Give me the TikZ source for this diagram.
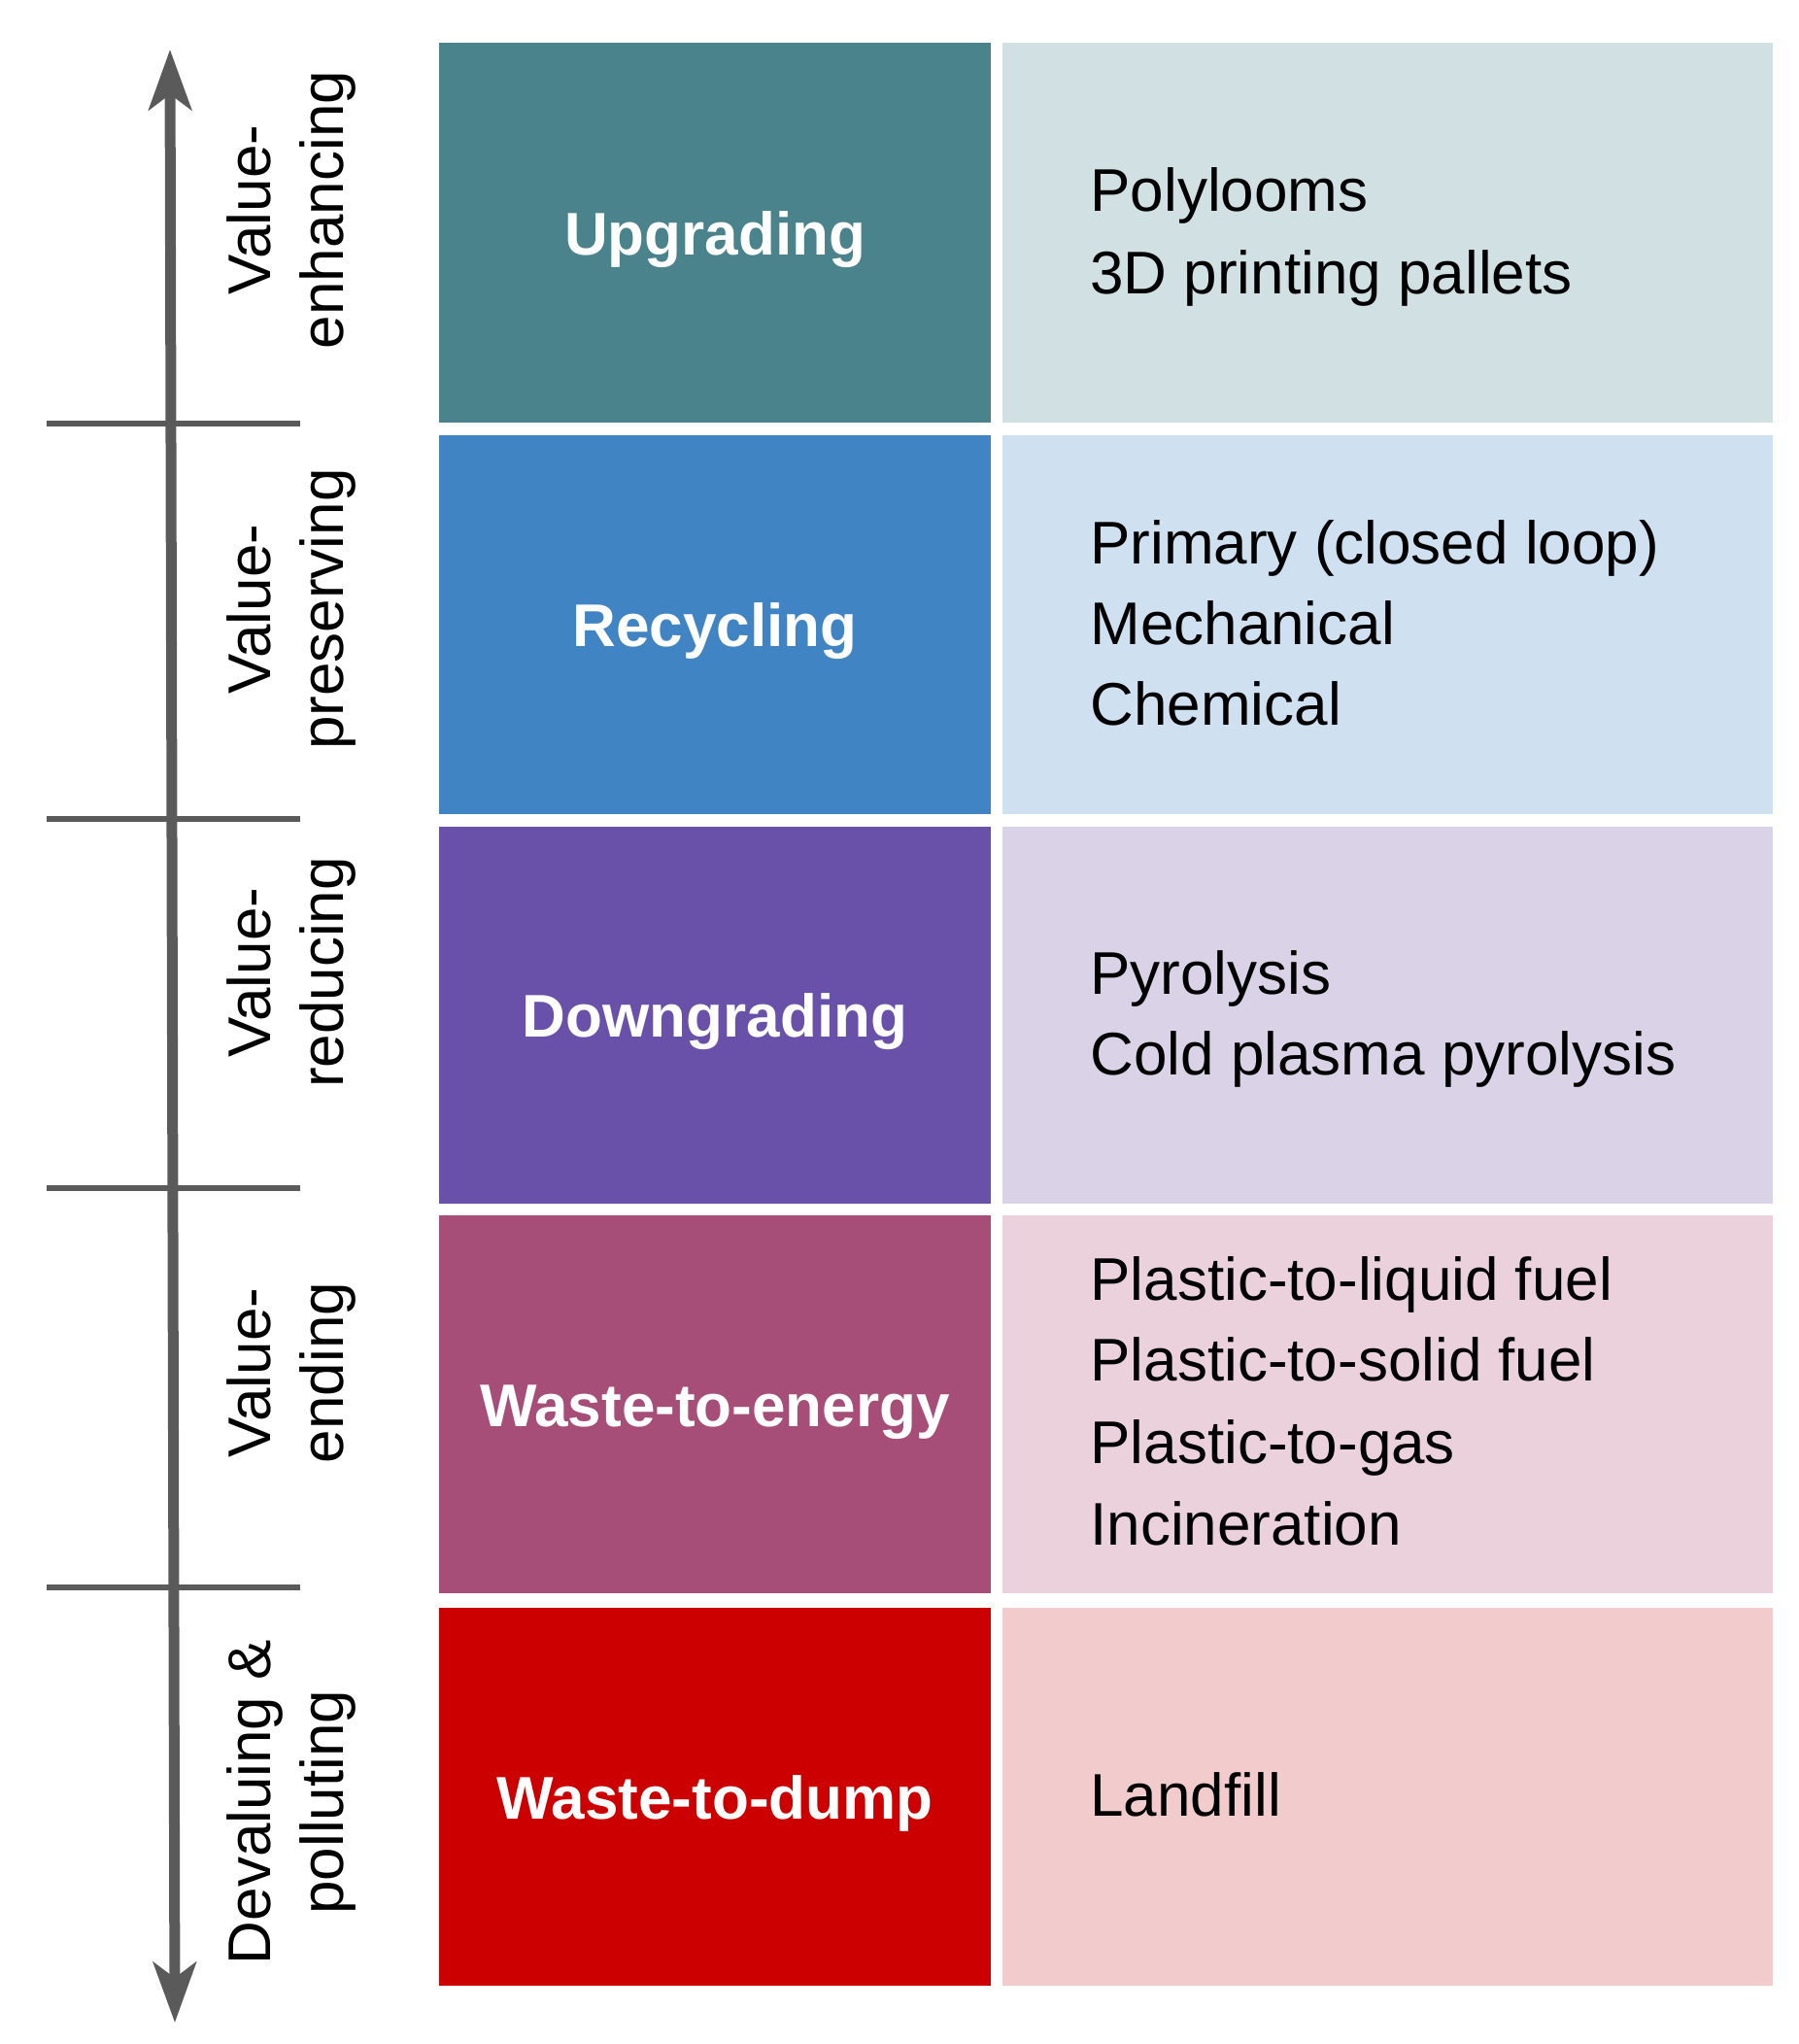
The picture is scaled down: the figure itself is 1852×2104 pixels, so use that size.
\documentclass[tikz,border=0pt]{standalone}
\usepackage{fontspec}
\setmainfont{Liberation Sans}
\usetikzlibrary{arrows.meta}
\definecolor{cTeal}{HTML}{4A838B}
\definecolor{lTeal}{HTML}{D1E0E3}
\definecolor{cBlue}{HTML}{4084C4}
\definecolor{lBlue}{HTML}{CFE1F1}
\definecolor{cPurp}{HTML}{6950A8}
\definecolor{lPurp}{HTML}{DAD3E8}
\definecolor{cMauv}{HTML}{A64E77}
\definecolor{lMauv}{HTML}{EAD1DC}
\definecolor{cRed}{HTML}{CC0000}
\definecolor{lRed}{HTML}{F2CCCC}
\definecolor{axgray}{HTML}{5A5A5A}
\begin{document}
\begin{tikzpicture}[x=0.5pt,y=-0.5pt,
  lbox/.style={draw=none,inner sep=0pt,outer sep=0pt,anchor=north west,minimum width=284pt},
  rbox/.style={draw=none,inner sep=0pt,outer sep=0pt,anchor=north west,minimum width=396.5pt},
  boxtxt/.style={anchor=base,inner sep=0pt,text=white,font=\fontsize{31}{37}\bfseries},
  itemtxt/.style={anchor=base west,inner sep=0pt,font=\fontsize{31}{37}\selectfont},
  sidetxt/.style={anchor=base,inner sep=0pt,rotate=90,font=\fontsize{31}{37}\selectfont},
  tick/.style={draw=axgray,line width=3pt},
  axis/.style={draw=axgray,line width=5.5pt,{Stealth[length=31pt,width=22pt,inset=8pt]}-{Stealth[length=31pt,width=22pt,inset=8pt]}}]
\useasboundingbox (0,0) rectangle (1852,2104);

% left coloured boxes
\node[lbox,fill=cTeal,minimum height=195.5pt] (b1) at (452,44) {};
\node[lbox,fill=cBlue,minimum height=195pt] (b2) at (452,448) {};
\node[lbox,fill=cPurp,minimum height=194pt] (b3) at (452,851) {};
\node[lbox,fill=cMauv,minimum height=194.5pt] (b4) at (452,1251) {};
\node[lbox,fill=cRed,minimum height=194.5pt] (b5) at (452,1655) {};
% right light boxes
\node[rbox,fill=lTeal,minimum height=195.5pt] (c1) at (1032,44) {};
\node[rbox,fill=lBlue,minimum height=195pt] (c2) at (1032,448) {};
\node[rbox,fill=lPurp,minimum height=194pt] (c3) at (1032,851) {};
\node[rbox,fill=lMauv,minimum height=194.5pt] (c4) at (1032,1251) {};
\node[rbox,fill=lRed,minimum height=194.5pt] (c5) at (1032,1655) {};

% box labels
\node[boxtxt] (t1) at (736,262) {Upgrading};
\node[boxtxt] (t2) at (736,665) {Recycling};
\node[boxtxt] (t3) at (736,1067) {Downgrading};
\node[boxtxt] (t4) at (736,1468) {Waste-to-energy};
\node[boxtxt] (t5) at (736,1872) {Waste-to-dump};

% right items
\node[itemtxt] (i1a) at (1122,217) {Polylooms};
\node[itemtxt] (i1b) at (1122,302) {3D printing pallets};
\node[itemtxt] (i2a) at (1122,580) {Primary (closed loop)};
\node[itemtxt] (i2b) at (1122,663) {Mechanical};
\node[itemtxt] (i2c) at (1122,746) {Chemical};
\node[itemtxt] (i3a) at (1122,1023) {Pyrolysis};
\node[itemtxt] (i3b) at (1122,1106) {Cold plasma pyrolysis};
\node[itemtxt] (i4a) at (1122,1338) {Plastic-to-liquid fuel};
\node[itemtxt] (i4b) at (1122,1421) {Plastic-to-solid fuel};
\node[itemtxt] (i4c) at (1122,1506) {Plastic-to-gas};
\node[itemtxt] (i4d) at (1122,1590) {Incineration};
\node[itemtxt] (i5a) at (1122,1869) {Landfill};

% axis
\coordinate (atop) at (175,51);
\coordinate (abot) at (180,2082);
\draw[axis] (atop) -- (abot);
\foreach \y [count=\k] in {436,843,1223,1634}{
  \coordinate (tl\k) at (48,\y);
  \coordinate (tr\k) at (309,\y);
  \draw[tick] (tl\k) -- (tr\k);
}

% side labels
\node[sidetxt] (s1a) at (278,216) {Value-};
\node[sidetxt] (s1b) at (353,216) {enhancing};
\node[sidetxt] (s2a) at (278,627) {Value-};
\node[sidetxt] (s2b) at (353,627) {preserving};
\node[sidetxt] (s3a) at (278,1001) {Value-};
\node[sidetxt] (s3b) at (353,1001) {reducing};
\node[sidetxt] (s4a) at (278,1413) {Value-};
\node[sidetxt] (s4b) at (353,1413) {ending};
\node[sidetxt] (s5a) at (278,1855) {Devaluing \&};
\node[sidetxt] (s5b) at (353,1855) {polluting};
\end{tikzpicture}
\end{document}
